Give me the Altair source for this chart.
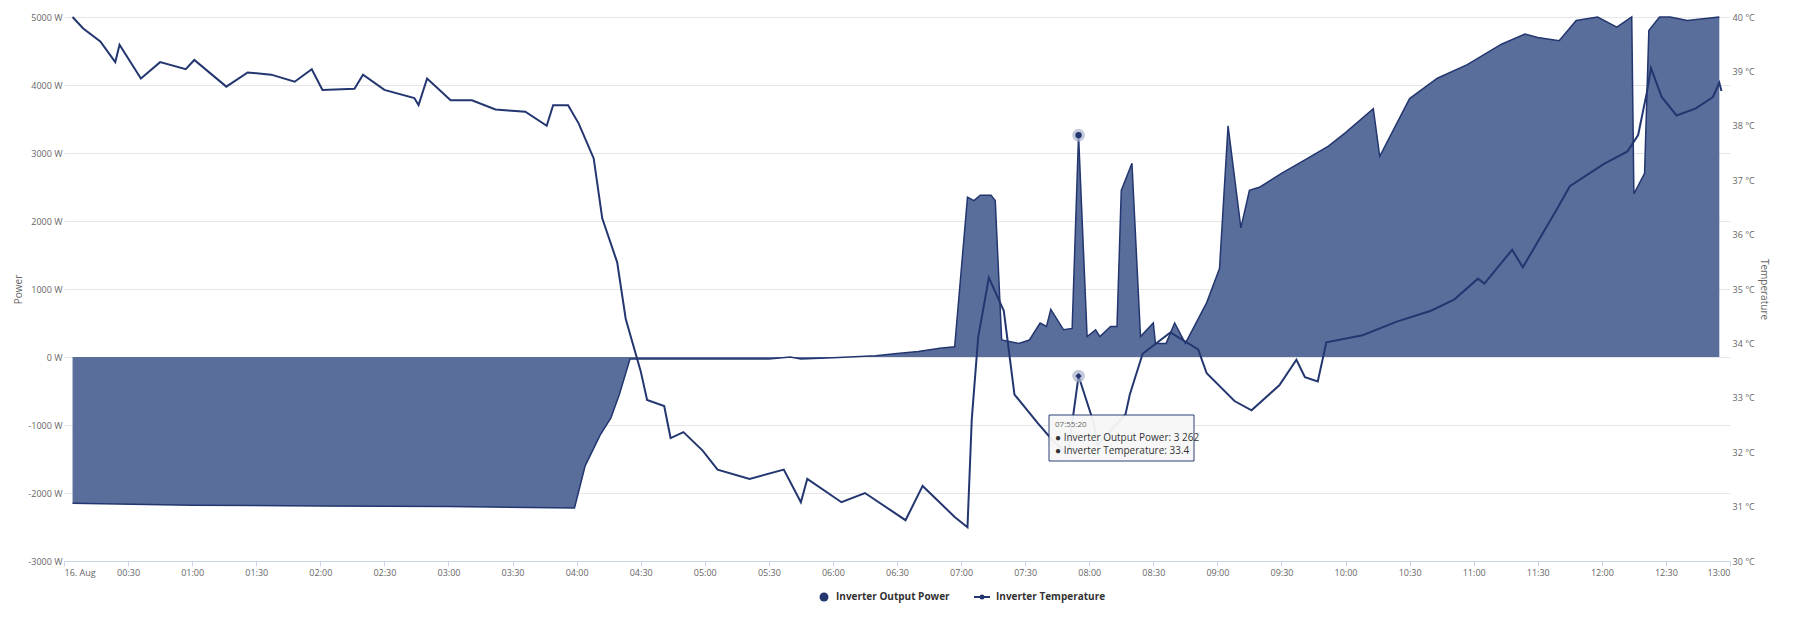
import altair as alt
import pandas as pd

p_min = [4,60,120,180,239,244,251,256,260,265,300,330,340,345,360,380,390,400,410,417,423,426,429,434,436,439,447,452,457,460,462,468,472,475,479,483,485,490,493,495,500,504,510,511,516,520,525,535,541,545,551,555,560,570,581,592,600,613,616,630,643,657,673,684,690,700,708,718,727,734,735,740,742,747,752,760,775]
p_val = [-2150,-2180,-2190,-2200,-2220,-1600,-1150,-900,-550,-30,-30,-30,0,-30,-10,20,50,80,130,150,2350,2300,2380,2380,2300,250,200,250,500,450,700,400,420,3262,300,400,300,450,450,2450,2850,300,500,200,200,500,200,800,1300,3400,1900,2450,2500,2700,2900,3100,3300,3650,2950,3800,4100,4300,4600,4750,4700,4650,4950,5000,4850,5000,2400,2700,4800,5000,5000,4950,5000]

t_min = [4,9,17,24,26,36,45,57,61,76,86,97,108,116,121,136,140,150,164,166,170,181,191,202,208,216,226,229,236,241,248,252,259,263,270,273,281,284,290,299,306,321,337,345,348,364,375,394,402,417,423,425,428,433,440,445,456,463,470,475,482,484,497,499,505,518,531,535,548,556,569,577,581,587,591,608,624,640,651,662,665,678,683,699,705,721,732,737,741,743,748,755,764,772,775,776]
t_val = [40.0,39.79,39.55,39.17,39.49,38.87,39.17,39.04,39.21,38.72,38.98,38.94,38.81,39.04,38.66,38.68,38.94,38.66,38.51,38.38,38.87,38.47,38.47,38.3,38.28,38.26,38.0,38.38,38.38,38.04,37.4,36.3,35.49,34.45,33.49,32.96,32.85,32.26,32.37,32.03,31.68,31.51,31.68,31.08,31.51,31.08,31.25,30.75,31.38,30.81,30.62,32.6,34.11,35.21,34.6,33.06,32.53,32.21,31.96,33.4,32.55,32.13,32.7,33.06,33.81,34.2,33.89,33.45,32.94,32.77,33.23,33.7,33.38,33.3,34.02,34.15,34.4,34.6,34.81,35.19,35.1,35.72,35.4,36.47,36.89,37.3,37.53,37.83,38.6,39.06,38.53,38.19,38.32,38.53,38.79,38.64]

BASE_MS = 1723766400000  # 2024-08-16T00:00:00Z
pdf = pd.DataFrame({"t": [BASE_MS + m * 60000 for m in p_min], "power": p_val})
tdf = pd.DataFrame({"t": [BASE_MS + m * 60000 for m in t_min], "temp": t_val})

W, H = 1666, 544
NAVY = "#23366f"
FONT = "Open Sans"

xscale = alt.Scale(domain=[BASE_MS, BASE_MS + 780 * 60000], type="utc")
xaxis = alt.Axis(title=None, grid=False, values=[BASE_MS + k * 1800000 for k in range(27)],
                 labelExpr="utchours(datum.value)==0 && utcminutes(datum.value)==0 ? '16. Aug' : utcFormat(datum.value,'%H:%M')",
                 labelColor="#666", labelFontSize=9, domainColor="#ccd6eb", tickColor="#ccd6eb", labelFont=FONT)
pscale = alt.Scale(domain=[-3000, 5000], nice=False)
tscale = alt.Scale(domain=[30, 40], nice=False)

area = alt.Chart(pdf).mark_area(color="#5a6e9c", opacity=1, line={"color": NAVY, "strokeWidth": 1.5}).encode(
    x=alt.X("t:T", scale=xscale, axis=xaxis),
    y=alt.Y("power:Q", scale=pscale,
            axis=alt.Axis(title="Power", values=list(range(-3000, 5001, 1000)), labelExpr="datum.value + ' W'",
                          gridColor="#e6e6e6", domain=False, ticks=False, labelColor="#666", labelFontSize=9,
                          titleColor="#666", titleFontSize=10, titleFontWeight="normal", labelFont=FONT, titleFont=FONT)),
)

line = alt.Chart(tdf).mark_line(color=NAVY, strokeWidth=2).encode(
    x=alt.X("t:T", scale=xscale),
    y=alt.Y("temp:Q", scale=tscale,
            axis=alt.Axis(title="Temperature", orient="right", values=list(range(30, 41)), labelExpr="datum.value + ' °C'",
                          grid=False, domain=False, ticks=False, labelColor="#666", labelFontSize=9,
                          titleColor="#666", titleFontSize=10, titleFontWeight="normal", labelFont=FONT, titleFont=FONT,
                          titleAngle=90)),
)

hp = pdf[pdf.power == 3262]
ht = tdf[tdf.temp == 33.4]
halo_p = alt.Chart(hp).mark_point(filled=True, size=160, color="#a9b3cc", opacity=0.7).encode(x=alt.X("t:T", scale=xscale), y=alt.Y("power:Q", axis=None, scale=pscale))
dot_p = alt.Chart(hp).mark_point(filled=True, size=40, color=NAVY, opacity=1).encode(x=alt.X("t:T", scale=xscale), y=alt.Y("power:Q", axis=None, scale=pscale))
halo_t = alt.Chart(ht).mark_point(filled=True, size=160, color="#a9b3cc", opacity=0.7).encode(x=alt.X("t:T", scale=xscale), y=alt.Y("temp:Q", axis=None, scale=tscale))
dot_t = alt.Chart(ht).mark_point(filled=True, shape="diamond", size=40, color=NAVY, opacity=1).encode(x=alt.X("t:T", scale=xscale), y=alt.Y("temp:Q", axis=None, scale=tscale))

one = pd.DataFrame({"a": [0]})
bx, by = 985, 398
tip_box = alt.Chart(one).mark_rect(fill="#f7f7f7", stroke=NAVY, strokeWidth=1, opacity=0.95).encode(
    x=alt.value(bx), x2=alt.value(bx + 145), y=alt.value(by), y2=alt.value(by + 46))
tip_t1 = alt.Chart(one).mark_text(align="left", fontSize=8, color="#666", font=FONT).encode(x=alt.value(bx + 6), y=alt.value(by + 10), text=alt.value("07:55:20"))
tip_t2 = alt.Chart(one).mark_text(align="left", fontSize=10, color="#333", font=FONT).encode(x=alt.value(bx + 6), y=alt.value(by + 23), text=alt.value("● Inverter Output Power: 3 262"))
tip_t3 = alt.Chart(one).mark_text(align="left", fontSize=10, color="#333", font=FONT).encode(x=alt.value(bx + 6), y=alt.value(by + 36), text=alt.value("● Inverter Temperature: 33.4"))

ly = H + 36
lg1 = alt.Chart(one).mark_point(filled=True, size=80, color=NAVY, opacity=1).encode(x=alt.value(760), y=alt.value(ly))
lg1t = alt.Chart(one).mark_text(align="left", fontSize=10, fontWeight="bold", color="#333", font=FONT).encode(x=alt.value(772), y=alt.value(ly), text=alt.value("Inverter Output Power"))
lg2l = alt.Chart(one).mark_rule(color=NAVY, strokeWidth=2).encode(x=alt.value(910), x2=alt.value(926), y=alt.value(ly))
lg2 = alt.Chart(one).mark_point(filled=True, size=25, color=NAVY, opacity=1).encode(x=alt.value(918), y=alt.value(ly))
lg2t = alt.Chart(one).mark_text(align="left", fontSize=10, fontWeight="bold", color="#333", font=FONT).encode(x=alt.value(932), y=alt.value(ly), text=alt.value("Inverter Temperature"))

chart = alt.layer(
    area, line, halo_p, dot_p, halo_t, dot_t,
    tip_box, tip_t1, tip_t2, tip_t3, lg1, lg1t, lg2l, lg2, lg2t
).resolve_scale(y="independent").properties(width=W, height=H).configure_view(stroke=None)

chart.save("out.html", embed_options={"renderer": "svg", "actions": False})
